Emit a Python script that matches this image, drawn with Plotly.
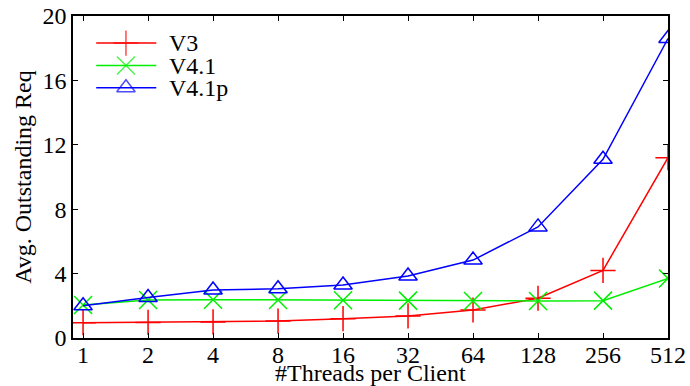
import plotly.graph_objects as go

threads = ["1", "2", "4", "8", "16", "32", "64", "128", "256", "512"]
v3 = [0.95, 0.97, 1.0, 1.05, 1.2, 1.37, 1.74, 2.47, 4.2, 11.2]
v41 = [2.05, 2.36, 2.38, 2.36, 2.34, 2.32, 2.3, 2.3, 2.32, 3.7]
v41p = [2.0, 2.52, 2.98, 3.06, 3.29, 3.85, 4.84, 6.9, 11.1, 18.6]

y_ticks = [0, 4, 8, 12, 16, 20]

names = ["V3", "V4.1", "V4.1p"]
colors = ["#ff0000", "#00ee00", "#0000ff"]
symbols = ["cross-thin-open", "x-thin-open", "triangle-up-open"]
sizes = [18, 18, 16]

# key box layout (fractions of the plot area)
key_x = [0.039, 0.089, 0.140]   # sample line start, marker, line end
key_text_x = 0.158
key_rows = [0.916, 0.846, 0.777]

FONT = "Liberation Serif"
FS = 24

fig = go.Figure()
for name, vals, color, sym, size in zip(names, [v3, v41, v41p], colors, symbols, sizes):
    fig.add_trace(go.Scatter(
        x=list(range(len(threads))), y=vals, name=name, mode="lines+markers",
        line=dict(color=color, width=1.5),
        marker=dict(symbol=sym, size=size, color=color,
                    line=dict(color=color, width=1.5)),
        showlegend=False,
    ))

# key samples drawn on a hidden unit overlay axis
for name, color, sym, size, ky in zip(names, colors, symbols, sizes, key_rows):
    fig.add_trace(go.Scatter(
        x=key_x, y=[ky] * 3, mode="lines+markers", xaxis="x2", yaxis="y2",
        line=dict(color=color, width=1.5),
        marker=dict(symbol=sym, size=[0, size, 0], color=color,
                    line=dict(color=color, width=1.5)),
        showlegend=False, hoverinfo="skip",
    ))
    fig.add_annotation(
        x=key_text_x, y=ky, xref="x2", yref="y2", text=name, showarrow=False,
        xanchor="left", yanchor="middle", font=dict(family=FONT, size=FS, color="black"),
    )

# x axis title, sitting just under the tick labels
fig.add_annotation(
    x=0.5, y=-0.109, xref="paper", yref="paper", text="#Threads per Client",
    showarrow=False, xanchor="center", yanchor="middle",
    font=dict(family=FONT, size=FS, color="black"),
)

axis_common = dict(
    ticks="inside", ticklen=5, tickcolor="black", tickwidth=1,
    showline=True, linecolor="black", linewidth=1.5, mirror="ticks",
    showgrid=False, zeroline=False, automargin=False,
    tickfont=dict(family=FONT, size=FS, color="black"),
)

fig.update_layout(
    width=690, height=386,
    margin=dict(l=73, r=22, t=16, b=48),
    paper_bgcolor="white", plot_bgcolor="white",
    font=dict(family=FONT, size=FS, color="black"),
    showlegend=False,
    xaxis=dict(
        range=[-0.155, 9], tickmode="array",
        tickvals=list(range(len(threads))), ticktext=threads,
        ticklabelstandoff=-6,
        **axis_common,
    ),
    yaxis=dict(
        range=[0, 20], tickvals=y_ticks,
        title=dict(text="Avg. Outstanding Req", standoff=4,
                   font=dict(family=FONT, size=FS)),
        **axis_common,
    ),
    xaxis2=dict(overlaying="x", range=[0, 1], visible=False, fixedrange=True),
    yaxis2=dict(overlaying="y", range=[0, 1], visible=False, fixedrange=True),
)

fig.write_html("out.html")
